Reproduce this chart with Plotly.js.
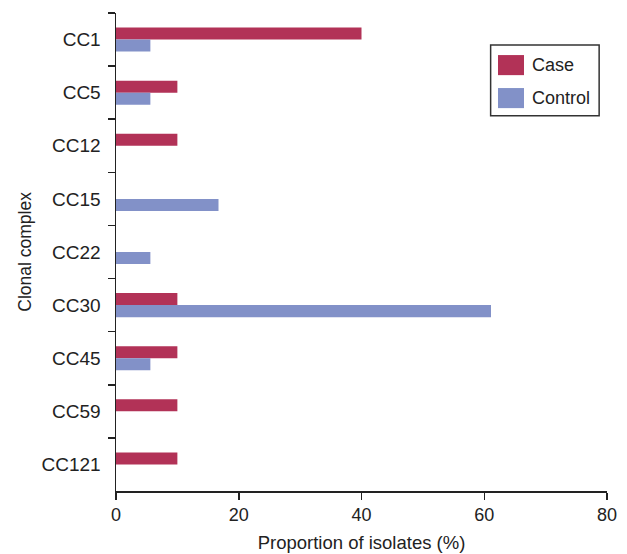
<!DOCTYPE html>
<html>
<head>
<meta charset="utf-8">
<script src="https://cdn.plot.ly/plotly-3.0.1.min.js"></script>
<style>
  html, body { margin: 0; padding: 0; background: #fff; }
  #chart { width: 627px; height: 554px; }
</style>
</head>
<body>
<div id="chart"></div>
<script>
// Data
const categories = ["CC1", "CC5", "CC12", "CC15", "CC22", "CC30", "CC45", "CC59", "CC121"];
const seriesNames = ["Case", "Control"];
const caseValues = [40, 10, 10, 0, 0, 10, 10, 10, 10];
const controlValues = [5.6, 5.6, 0, 16.7, 5.6, 61.1, 5.6, 0, 0];
const xTickValues = [0, 20, 40, 60, 80];
const xTitle = "Proportion of isolates (%)";
const yTitle = "Clonal complex";

const colors = ["#B23257", "#8291C8"];
const FONT = "Liberation Sans, Arial, Helvetica, sans-serif";
const TXT = "#222222";

const traces = [
  { type: "bar", orientation: "h", name: seriesNames[0], y: categories, x: caseValues,
    marker: { color: colors[0], line: { width: 0 } }, showlegend: false },
  { type: "bar", orientation: "h", name: seriesNames[1], y: categories, x: controlValues,
    marker: { color: colors[1], line: { width: 0 } }, showlegend: false }
];

// custom legend (paper coords)
const L = { x0: 0.763, x1: 0.984, y0: 0.785, y1: 0.933 };
const sw = [
  { x0: 0.778, x1: 0.831, y0: 0.870, y1: 0.912, ty: 0.891 },
  { x0: 0.778, x1: 0.831, y0: 0.801, y1: 0.843, ty: 0.822 }
];
const shapes = [
  { type: "rect", xref: "paper", yref: "paper", x0: L.x0, x1: L.x1, y0: L.y0, y1: L.y1,
    line: { color: "#333", width: 1.5 }, fillcolor: "#fff" }
];
const annotations = [];
sw.forEach((s, i) => {
  shapes.push({ type: "rect", xref: "paper", yref: "paper", x0: s.x0, x1: s.x1, y0: s.y0, y1: s.y1,
    line: { width: 0 }, fillcolor: colors[i] });
  annotations.push({ xref: "paper", yref: "paper", x: 0.843, y: s.ty, xanchor: "left", yanchor: "middle",
    text: seriesNames[i], showarrow: false, font: { family: FONT, size: 18, color: TXT } });
});
// y axis title placed as rotated annotation
annotations.push({ xref: "paper", yref: "paper", x: -0.186, y: 0.5, xanchor: "center", yanchor: "middle",
  textangle: -90, text: yTitle, showarrow: false, font: { family: FONT, size: 17.5, color: TXT } });

const layout = {
  width: 627, height: 554,
  margin: { l: 115.5, r: 19.7, t: 13, b: 63.3 },
  paper_bgcolor: "#fff", plot_bgcolor: "#fff",
  barmode: "group", bargap: 0.547, bargroupgap: 0,
  font: { family: FONT, size: 18, color: TXT },
  xaxis: {
    range: [0, 80], tickvals: xTickValues, ticktext: xTickValues.map(String),
    showgrid: false, zeroline: false, showline: true, linecolor: "#222", linewidth: 1.5,
    ticks: "outside", ticklen: 7, tickwidth: 1.5, tickcolor: "#222",
    tickfont: { family: FONT, size: 18, color: TXT },
    title: { text: xTitle, font: { family: FONT, size: 18.5, color: TXT }, standoff: 12 },
    fixedrange: true
  },
  yaxis: {
    type: "category", autorange: "reversed", categoryorder: "array", categoryarray: categories,
    showgrid: false, zeroline: false, showline: true, linecolor: "#222", linewidth: 1.5,
    ticks: "outside", ticklen: 7, tickwidth: 1.5, tickcolor: "#222", tickson: "boundaries",
    tickfont: { family: FONT, size: 19, color: TXT }, ticklabelstandoff: 10,
    fixedrange: true
  },
  shapes: shapes,
  annotations: annotations,
  showlegend: false
};

Plotly.newPlot("chart", traces, layout, { displayModeBar: false, staticPlot: true });
</script>
</body>
</html>
